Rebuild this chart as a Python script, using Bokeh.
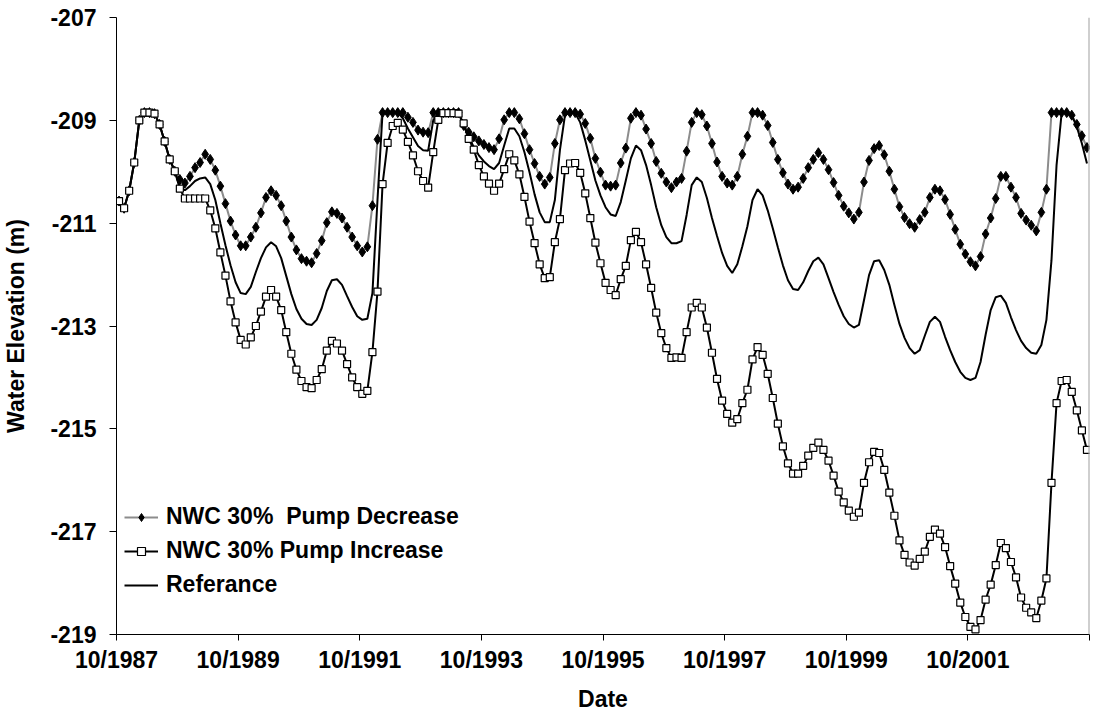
from bokeh.plotting import figure
from bokeh.models import FixedTicker, Span, Legend, LegendItem, Range1d
from bokeh.embed import file_html
from bokeh.resources import INLINE

# Monthly values, 10/1987 .. 9/2003 (192 months)
tick_labels = ["10/1987", "10/1989", "10/1991", "10/1993", "10/1995",
               "10/1997", "10/1999", "10/2001", ""]
y_ticks = [-219, -217, -215, -213, -211, -209, -207]

pump_decrease = [
    -210.57, -210.71, -210.37, -209.82, -209.00, -208.85, -208.85, -208.87, -209.08, -209.41, -209.76, -209.99,
    -210.15, -210.22, -210.09, -209.92, -209.82, -209.66, -209.76, -209.97, -210.28, -210.62, -210.96, -211.23,
    -211.44, -211.44, -211.27, -211.08, -210.80, -210.50, -210.37, -210.46, -210.66, -210.96, -211.27, -211.52,
    -211.69, -211.74, -211.77, -211.59, -211.34, -210.99, -210.78, -210.81, -210.90, -211.08, -211.27, -211.44,
    -211.56, -211.46, -210.66, -209.37, -208.85, -208.85, -208.85, -208.85, -208.85, -208.94, -209.04, -209.19,
    -209.23, -209.24, -208.85, -208.85, -208.85, -208.85, -208.85, -208.85, -209.10, -209.23, -209.32, -209.40,
    -209.47, -209.53, -209.57, -209.36, -208.99, -208.85, -208.85, -208.97, -209.26, -209.57, -209.84, -210.09,
    -210.24, -210.11, -209.45, -208.99, -208.85, -208.85, -208.85, -208.88, -209.06, -209.35, -209.74, -210.01,
    -210.26, -210.28, -210.26, -209.83, -209.54, -208.96, -208.85, -208.90, -209.17, -209.45, -209.80, -210.03,
    -210.20, -210.31, -210.20, -210.13, -209.60, -209.04, -208.85, -208.89, -209.11, -209.45, -209.81, -210.09,
    -210.22, -210.26, -210.09, -209.66, -209.31, -208.85, -208.85, -208.90, -209.10, -209.43, -209.76, -210.02,
    -210.24, -210.34, -210.30, -210.13, -209.92, -209.76, -209.63, -209.76, -209.96, -210.21, -210.46, -210.67,
    -210.80, -210.92, -210.79, -210.20, -209.78, -209.55, -209.49, -209.67, -209.99, -210.34, -210.68, -210.89,
    -211.01, -211.08, -210.93, -210.79, -210.50, -210.34, -210.37, -210.54, -210.83, -211.12, -211.41, -211.60,
    -211.75, -211.83, -211.65, -211.21, -210.90, -210.52, -210.09, -210.09, -210.30, -210.50, -210.81, -210.94,
    -211.04, -211.15, -210.79, -210.34, -208.85, -208.85, -208.85, -208.85, -208.90, -209.08, -209.30, -209.53,
]

pump_increase = [
    -210.57, -210.71, -210.37, -209.82, -209.00, -208.85, -208.85, -208.87, -209.08, -209.41, -209.76, -209.99,
    -210.33, -210.52, -210.52, -210.52, -210.52, -210.52, -210.75, -211.10, -211.57, -212.02, -212.52, -212.93,
    -213.27, -213.36, -213.22, -213.00, -212.72, -212.43, -212.30, -212.43, -212.69, -213.12, -213.54, -213.85,
    -214.07, -214.19, -214.21, -214.05, -213.84, -213.48, -213.29, -213.34, -213.48, -213.74, -214.00, -214.19,
    -214.32, -214.26, -213.51, -212.33, -210.24, -209.44, -209.11, -209.05, -209.18, -209.42, -209.68, -209.99,
    -210.18, -210.31, -209.62, -208.99, -208.86, -208.86, -208.86, -208.87, -209.06, -209.36, -209.57, -209.87,
    -210.09, -210.23, -210.37, -210.23, -209.95, -209.66, -209.78, -210.05, -210.49, -210.97, -211.39, -211.80,
    -212.07, -212.05, -211.37, -210.92, -209.97, -209.84, -209.83, -210.02, -210.42, -210.90, -211.38, -211.78,
    -212.16, -212.30, -212.40, -212.09, -211.83, -211.33, -211.17, -211.37, -211.80, -212.26, -212.74, -213.14,
    -213.43, -213.62, -213.61, -213.62, -213.12, -212.64, -212.55, -212.64, -213.03, -213.52, -214.03, -214.45,
    -214.71, -214.88, -214.81, -214.50, -214.24, -213.65, -213.41, -213.56, -213.93, -214.40, -214.90, -215.34,
    -215.67, -215.87, -215.87, -215.72, -215.52, -215.37, -215.27, -215.41, -215.62, -215.91, -216.22, -216.43,
    -216.59, -216.71, -216.63, -216.05, -215.65, -215.45, -215.47, -215.80, -216.24, -216.69, -217.17, -217.45,
    -217.60, -217.66, -217.53, -217.39, -217.10, -216.96, -217.04, -217.30, -217.67, -218.01, -218.38, -218.66,
    -218.85, -218.90, -218.72, -218.32, -218.03, -217.65, -217.22, -217.32, -217.59, -217.89, -218.28, -218.48,
    -218.57, -218.68, -218.34, -217.91, -216.05, -214.50, -214.07, -214.05, -214.28, -214.64, -215.03, -215.41,
]

reference = [
    -210.57, -210.71, -210.37, -209.82, -209.00, -208.85, -208.85, -208.87, -209.08, -209.41, -209.76, -209.99,
    -210.28, -210.36, -210.28, -210.18, -210.13, -210.11, -210.24, -210.55, -211.00, -211.43, -211.82, -212.15,
    -212.36, -212.38, -212.24, -211.95, -211.68, -211.47, -211.37, -211.45, -211.68, -212.03, -212.38, -212.67,
    -212.86, -212.96, -212.98, -212.88, -212.65, -212.32, -212.11, -212.09, -212.20, -212.42, -212.63, -212.81,
    -212.88, -212.86, -212.36, -210.55, -208.85, -208.85, -208.85, -208.85, -208.96, -209.16, -209.33, -209.50,
    -209.58, -209.59, -209.00, -208.85, -208.85, -208.85, -208.85, -208.85, -209.10, -209.33, -209.52, -209.68,
    -209.80, -209.89, -209.95, -209.83, -209.49, -209.16, -209.16, -209.31, -209.62, -210.01, -210.44, -210.79,
    -210.98, -210.98, -210.55, -209.58, -208.90, -208.85, -208.86, -209.04, -209.39, -209.78, -210.17, -210.46,
    -210.69, -210.83, -210.86, -210.59, -210.17, -209.74, -209.49, -209.58, -209.87, -210.26, -210.69, -211.04,
    -211.27, -211.39, -211.39, -211.35, -210.84, -210.26, -210.11, -210.20, -210.51, -210.90, -211.25, -211.58,
    -211.83, -211.97, -211.80, -211.45, -211.06, -210.55, -210.34, -210.46, -210.75, -211.10, -211.47, -211.82,
    -212.11, -212.28, -212.30, -212.15, -211.93, -211.74, -211.67, -211.80, -212.07, -212.34, -212.59, -212.81,
    -212.96, -213.03, -212.98, -212.50, -212.01, -211.74, -211.72, -211.91, -212.20, -212.59, -212.96, -213.23,
    -213.43, -213.54, -213.47, -213.19, -212.92, -212.82, -212.92, -213.21, -213.47, -213.70, -213.89, -214.01,
    -214.05, -214.01, -213.70, -213.17, -212.69, -212.44, -212.41, -212.55, -212.83, -213.08, -213.29, -213.43,
    -213.52, -213.54, -213.37, -212.88, -211.72, -209.87, -208.86, -208.85, -208.90, -209.13, -209.45, -209.84,
]

months = list(range(len(reference)))
tick_pos = [m - 0.5 for m in range(0, len(reference) + 1, 24)]

FONT = "Liberation Sans"

p = figure(width=1096, height=714, output_backend="svg", toolbar_location=None,
           x_range=Range1d(-0.5, len(reference) - 0.5), y_range=Range1d(-219, -207),
           min_border_left=115, min_border_right=7, min_border_top=17, min_border_bottom=79)
p.xgrid.visible = False
p.ygrid.visible = False
p.outline_line_color = None
p.background_fill_color = "white"

p.add_layout(Span(location=len(reference) - 0.5, dimension="height",
                  line_color="#a0a0a0", line_width=2))

dl = p.line(months, pump_decrease, line_color="#8c8c8c", line_width=2)
ds = p.scatter(months, pump_decrease, marker="diamond", size=10,
               fill_color="black", line_color="black")
rl = p.line(months, reference, line_color="black", line_width=2)
il = p.line(months, pump_increase, line_color="black", line_width=2)
isq = p.scatter(months, pump_increase, marker="square", size=7,
                fill_color="white", line_color="black", line_width=1.2)

xa = p.xaxis[0]
xa.ticker = FixedTicker(ticks=tick_pos)
xa.major_label_overrides = {t: lab for t, lab in zip(tick_pos, tick_labels)}
xa.axis_label = "Date"
ya = p.yaxis[0]
ya.ticker = FixedTicker(ticks=y_ticks)
ya.major_label_overrides = {t: str(t) for t in y_ticks}
ya.axis_label = "Water Elevation (m)"

for ax in (xa, ya):
    ax.axis_line_color = "black"
    ax.axis_line_width = 1
    ax.major_tick_line_color = "black"
    ax.major_tick_in = 0
    ax.minor_tick_line_color = None
    ax.major_label_text_font = FONT
    ax.major_label_text_font_style = "bold"
    ax.major_label_text_font_size = "23px"
    ax.major_label_text_color = "black"
    ax.axis_label_text_font = FONT
    ax.axis_label_text_font_style = "bold"
    ax.axis_label_text_font_size = "23px"
    ax.axis_label_text_color = "black"

xa.major_tick_out = 6
xa.major_label_standoff = 6
xa.axis_label_standoff = 10
ya.major_tick_out = 7
ya.major_label_standoff = 13
ya.axis_label_standoff = 18

legend = Legend(items=[
    LegendItem(label="NWC 30%  Pump Decrease", renderers=[dl, ds]),
    LegendItem(label="NWC 30% Pump Increase", renderers=[il, isq]),
    LegendItem(label="Referance", renderers=[rl]),
], location=(8, 36), border_line_color=None, background_fill_alpha=0,
    label_text_font=FONT, label_text_font_style="bold", label_text_font_size="23px",
    label_text_color="black",
    glyph_width=34, glyph_height=20, label_height=20, spacing=7, padding=0,
    margin=0, label_standoff=8)
p.add_layout(legend)

open("out.html", "w").write(file_html(p, INLINE))
